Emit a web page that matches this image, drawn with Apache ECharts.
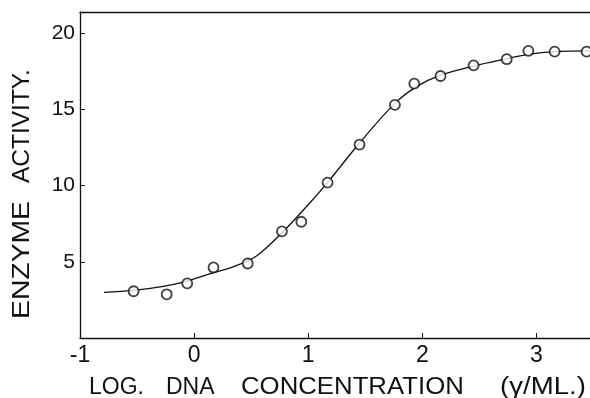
<!DOCTYPE html>
<html>
<head>
<meta charset="utf-8">
<script src="https://cdn.jsdelivr.net/npm/echarts@6/dist/echarts.min.js"></script>
<style>html,body{margin:0;padding:0;background:#fff}#c{width:590px;height:398px}</style>
</head>
<body>
<div id="c"></div>
<script>
// Measured points (log DNA concentration vs enzyme activity)
var pointX = [-0.53, -0.24, -0.06, 0.17, 0.47, 0.77, 0.94, 1.17, 1.45, 1.76, 1.93, 2.16, 2.45, 2.74, 2.93, 3.16, 3.44];
var pointY = [3.07, 2.87, 3.59, 4.63, 4.89, 7.0, 7.63, 10.2, 12.7, 15.3, 16.7, 17.2, 17.9, 18.3, 18.85, 18.8, 18.8];
// Fitted curve
var curveX = [-0.79, -0.53, -0.27, -0.07, 0.15, 0.36, 0.55, 0.78, 1.0, 1.18, 1.45, 1.76, 1.95, 2.16, 2.45, 2.74, 2.93, 3.16, 3.47];
var curveY = [3.00, 3.13, 3.39, 3.72, 4.24, 4.72, 5.40, 6.98, 8.75, 10.3, 12.8, 15.4, 16.5, 17.25, 17.85, 18.33, 18.62, 18.8, 18.85];
var xTicks = [-1, 0, 1, 2, 3];
var yTicks = [5, 10, 15, 20];

var chart = echarts.init(document.getElementById('c'), null, {renderer: 'canvas'});
var font = 'Liberation Sans';
chart.setOption({
  animation: false,
  backgroundColor: '#fff',
  grid: {left: 80, right: 0, top: 12, bottom: 60, containLabel: false},
  xAxis: [{
    type: 'value', min: -1, max: 3.47, interval: 1,
    axisLine: {show: true, onZero: false, lineStyle: {color: '#111', width: 1.3}},
    axisTick: {show: true, inside: true, length: 5, lineStyle: {color: '#111'}},
    splitLine: {show: false},
    axisLabel: {
      showMaxLabel: false, margin: 6, color: '#111', fontFamily: font, fontSize: 23,
      formatter: function (v) { return xTicks.indexOf(v) >= 0 ? String(v) : ''; }
    }
  }, {
    type: 'value', position: 'top', min: -1, max: 3.47,
    axisLine: {show: true, onZero: false, lineStyle: {color: '#111', width: 1.3}},
    axisTick: {show: false}, axisLabel: {show: false}, splitLine: {show: false}
  }],
  yAxis: {
    type: 'value', min: 0, max: 21.4, interval: 5,
    axisLine: {show: true, onZero: false, lineStyle: {color: '#111', width: 1.3}},
    axisTick: {show: true, inside: true, length: 5, lineStyle: {color: '#111'}},
    splitLine: {show: false},
    axisLabel: {
      showMaxLabel: false, margin: 5, color: '#111', fontFamily: font, fontSize: 21,
      formatter: function (v) { return yTicks.indexOf(v) >= 0 ? String(v) : ''; }
    }
  },
  series: [{
    type: 'line', smooth: 0.35, showSymbol: false, z: 2,
    data: curveX.map(function (x, i) { return [x, curveY[i]]; }),
    lineStyle: {color: '#111', width: 1.3}
  }, {
    type: 'scatter', symbol: 'circle', symbolSize: 10, z: 3,
    data: pointX.map(function (x, i) { return [x, pointY[i]]; }),
    itemStyle: {color: '#fff', borderColor: '#111', borderWidth: 1.8}
  }],
  graphic: [{
    type: 'text', x: 89, y: 376,
    style: {text: 'LOG.', fontFamily: font, fontSize: 23, fill: '#111'}
  }, {
    type: 'text', x: 166, y: 376,
    style: {text: 'DNA', fontFamily: font, fontSize: 23, fill: '#111'}
  }, {
    type: 'text', x: 241, y: 376, scaleX: 1.12,
    style: {text: 'CONCENTRATION', fontFamily: font, fontSize: 23, fill: '#111'}
  }, {
    type: 'text', x: 500, y: 376, scaleX: 1.2,
    style: {text: '(γ/ML.)', fontFamily: font, fontSize: 23, fill: '#111'}
  }, {
    type: 'text', x: 34, y: 319, rotation: Math.PI / 2, scaleX: 1.18,
    style: {text: 'ENZYME', fontFamily: font, fontSize: 24, fill: '#111', verticalAlign: 'bottom', align: 'left'}
  }, {
    type: 'text', x: 34, y: 183, rotation: Math.PI / 2, scaleX: 1.02,
    style: {text: 'ACTIVITY.', fontFamily: font, fontSize: 24, fill: '#111', verticalAlign: 'bottom', align: 'left'}
  }]
});
</script>
</body>
</html>
